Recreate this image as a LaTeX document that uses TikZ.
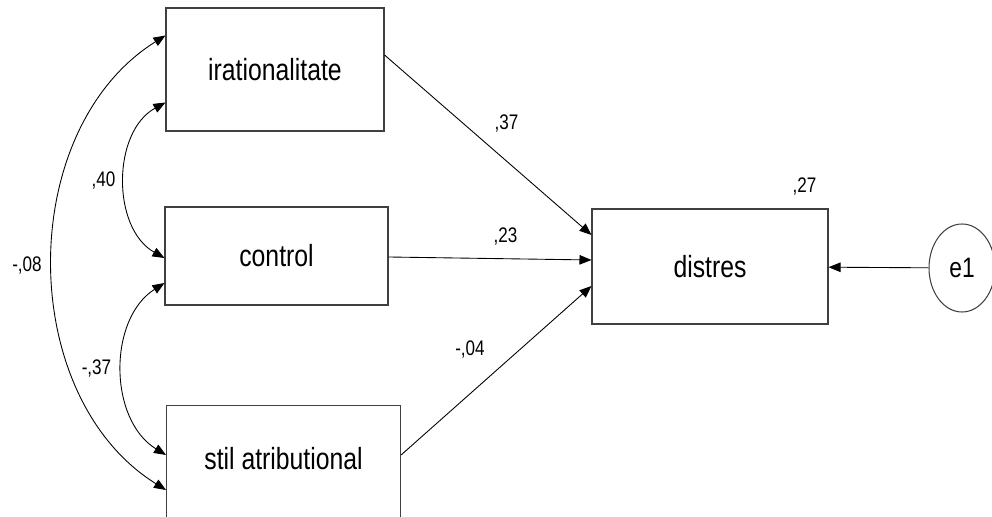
\documentclass[tikz,border=0pt]{standalone}
\usepackage{fontspec}
\setmainfont[FakeStretch=0.81]{Liberation Sans}
\usetikzlibrary{arrows.meta,shapes.geometric}
\begin{document}
\begin{tikzpicture}[var/.style={draw=black!75, line width=0.6pt, inner sep=0pt, font=\fontsize{17.4}{20}\selectfont},
    err/.style={draw=black!75, line width=0.6pt, ellipse, inner sep=0pt, minimum width=1.32cm, minimum height=1.76cm, font=\fontsize{16}{19}\selectfont},
    coef/.style={anchor=base, inner sep=0pt, font=\fontsize{12}{14}\selectfont},
    >={Triangle[length=0.24cm, width=0.19cm]}]
    \useasboundingbox (0,0) rectangle (19.84,10.34);
    \node[var, minimum width=4.36cm, minimum height=2.46cm] (irat) at (5.5,8.95) {irationalitate};
    \node[var, minimum width=4.46cm, minimum height=1.96cm] (ctrl) at (5.53,5.22) {control};
    \node[var, minimum width=4.68cm, text height=1.28cm, text depth=1.32cm, anchor=north west] (stil) at (3.32,2.24) {stil atributional};
    \node[var, minimum width=4.72cm, minimum height=2.30cm] (distres) at (14.2,5.01) {distres};
    \node[err] (e1) at (19.24,4.98) {e1};
    \draw[line width=0.5pt,->] ([yshift=0.29cm]irat.east) -- ([yshift=0.63cm]distres.west);
    \draw[line width=0.5pt,->] ([yshift=-0.02cm]ctrl.east) -- ([yshift=0.13cm]distres.west);
    \draw[line width=0.5pt,->] ([yshift=-1cm]stil.north east) -- ([yshift=-0.39cm]distres.west);
    \draw[line width=0.5pt,->] (e1) -- (distres);
    \draw[line width=0.5pt,<->] ([yshift=0.68cm]irat.west) to[bend right=58] ([yshift=-1.7cm]stil.north west);
    \draw[line width=0.5pt,<->] ([yshift=-0.66cm]irat.west) to[bend right=61] ([yshift=-0.04cm]ctrl.west);
    \draw[line width=0.5pt,<->] ([yshift=-0.54cm]ctrl.west) to[bend right=58] ([yshift=-1cm]stil.north west);
    \node[coef] (c40) at (2.07,6.6) {,40};
    \node[coef] (c08) at (0.54,4.9) {-,08};
    \node[coef] (c37a) at (1.93,2.84) {-,37};
    \node[coef] (c37b) at (10.13,7.74) {,37};
    \node[coef] (c23) at (10.11,5.48) {,23};
    \node[coef] (c04) at (9.4,3.22) {-,04};
    \node[coef] (c27) at (16.09,6.48) {,27};
  \end{tikzpicture}
\end{document}
